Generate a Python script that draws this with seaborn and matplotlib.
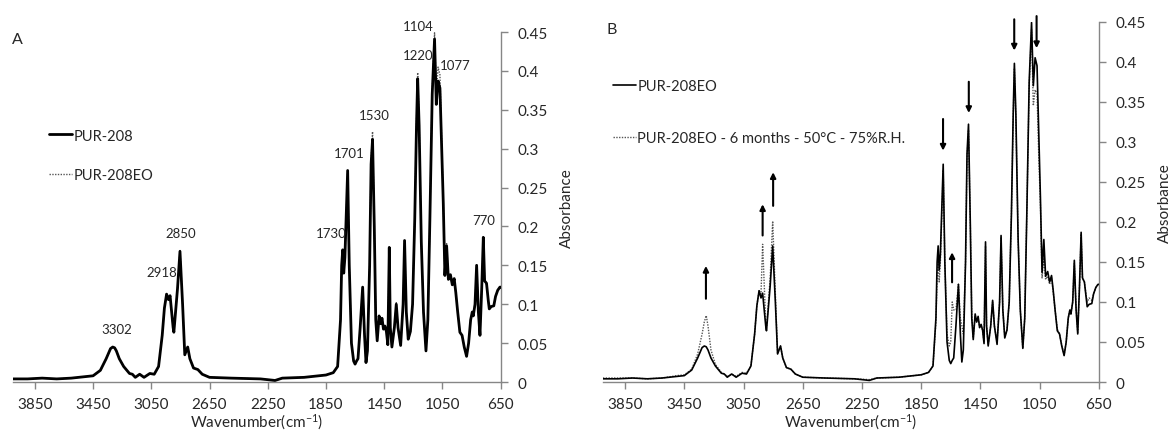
import numpy as np
import pandas as pd
import matplotlib
matplotlib.use("Agg")
import matplotlib.pyplot as plt
import seaborn as sns

# Wavenumbers (cm-1)
WAVENUMBER = [4000, 3900, 3800, 3700, 3600, 3500, 3450, 3400, 3360, 3330, 3315, 3302, 3290, 3270,
              3240, 3200, 3180, 3160, 3130, 3100, 3060, 3030, 3000, 2975, 2960, 2945, 2932, 2921,
              2900, 2895, 2870, 2853, 2835, 2820, 2800, 2785, 2760, 2730, 2700, 2650, 2500, 2300,
              2200, 2150, 2000, 1900, 1850, 1800, 1770, 1750, 1742, 1735, 1728, 1720, 1710, 1701,
              1690, 1675, 1660, 1650, 1640, 1630, 1615, 1598, 1585, 1575, 1565, 1550, 1540, 1530,
              1518, 1508, 1498, 1485, 1475, 1465, 1455, 1445, 1435, 1425, 1415, 1408, 1397, 1380,
              1367, 1355, 1337, 1320, 1310, 1298, 1285, 1270, 1255, 1240, 1228, 1220, 1210, 1195,
              1180, 1163, 1150, 1136, 1120, 1104, 1092, 1080, 1067, 1055, 1044, 1033, 1021, 1009,
              995, 982, 969, 958, 945, 930, 915, 900, 884, 870, 856, 845, 838, 826, 815, 803, 792,
              780, 769, 760, 747, 735, 728, 715, 697, 685, 670, 655, 650]

PUR208 = [0.004, 0.004, 0.005, 0.004, 0.005, 0.007, 0.008, 0.015, 0.030, 0.043, 0.045, 0.044, 0.040, 0.030,
          0.020, 0.011, 0.010, 0.006, 0.010, 0.006, 0.011, 0.010, 0.020, 0.060, 0.095, 0.113, 0.106, 0.111,
          0.070, 0.064, 0.120, 0.168, 0.100, 0.035, 0.045, 0.030, 0.018, 0.016, 0.010, 0.006, 0.005, 0.004,
          0.002, 0.005, 0.006, 0.008, 0.009, 0.012, 0.020, 0.080, 0.150, 0.170, 0.140, 0.160, 0.220, 0.272,
          0.150, 0.050, 0.027, 0.023, 0.027, 0.030, 0.070, 0.122, 0.060, 0.025, 0.040, 0.150, 0.280, 0.312,
          0.200, 0.080, 0.053, 0.085, 0.075, 0.082, 0.068, 0.072, 0.065, 0.048, 0.173, 0.070, 0.045, 0.070,
          0.100, 0.070, 0.047, 0.100, 0.182, 0.090, 0.055, 0.065, 0.100, 0.210, 0.330, 0.390, 0.330, 0.180,
          0.090, 0.040, 0.080, 0.210, 0.370, 0.441, 0.357, 0.387, 0.378, 0.300, 0.230, 0.137, 0.175, 0.132,
          0.138, 0.125, 0.133, 0.115, 0.090, 0.064, 0.060, 0.045, 0.033, 0.050, 0.080, 0.090, 0.085, 0.100, 0.150, 0.090, 0.060,
          0.120, 0.186, 0.130, 0.127, 0.105, 0.094, 0.097, 0.098, 0.110, 0.118, 0.122, 0.122]

PUR208EO = [0.004, 0.004, 0.005, 0.004, 0.005, 0.007, 0.008, 0.015, 0.030, 0.043, 0.045, 0.044, 0.040, 0.030,
            0.020, 0.011, 0.010, 0.006, 0.010, 0.006, 0.011, 0.010, 0.020, 0.060, 0.095, 0.114, 0.105, 0.111,
            0.070, 0.064, 0.120, 0.170, 0.100, 0.035, 0.045, 0.030, 0.018, 0.016, 0.010, 0.006, 0.005, 0.004,
            0.002, 0.005, 0.006, 0.008, 0.009, 0.012, 0.020, 0.080, 0.150, 0.170, 0.140, 0.160, 0.220, 0.272,
            0.150, 0.050, 0.027, 0.023, 0.027, 0.030, 0.070, 0.122, 0.060, 0.025, 0.040, 0.150, 0.285, 0.322,
            0.200, 0.080, 0.053, 0.085, 0.075, 0.082, 0.068, 0.072, 0.065, 0.048, 0.175, 0.070, 0.045, 0.070,
            0.102, 0.070, 0.047, 0.100, 0.183, 0.090, 0.055, 0.065, 0.100, 0.210, 0.335, 0.398, 0.335, 0.180,
            0.090, 0.042, 0.080, 0.210, 0.375, 0.449, 0.370, 0.405, 0.395, 0.310, 0.230, 0.137, 0.178, 0.132,
            0.138, 0.125, 0.133, 0.115, 0.090, 0.064, 0.060, 0.045, 0.033, 0.050, 0.080, 0.090, 0.085, 0.100, 0.152, 0.090, 0.060,
            0.120, 0.187, 0.130, 0.125, 0.105, 0.094, 0.097, 0.098, 0.110, 0.118, 0.122, 0.122]

PUR208EO_AGED = [0.005, 0.005, 0.005, 0.004, 0.005, 0.008, 0.009, 0.016, 0.035, 0.060, 0.075, 0.083, 0.070, 0.040,
                 0.022, 0.012, 0.010, 0.007, 0.010, 0.007, 0.012, 0.011, 0.020, 0.060, 0.095, 0.114, 0.110, 0.172,
                 0.075, 0.066, 0.130, 0.201, 0.110, 0.036, 0.045, 0.030, 0.018, 0.016, 0.010, 0.006, 0.005, 0.004,
                 0.003, 0.005, 0.006, 0.008, 0.009, 0.012, 0.020, 0.075, 0.130, 0.150, 0.125, 0.150, 0.210, 0.265,
                 0.150, 0.060, 0.045, 0.050, 0.100, 0.090, 0.090, 0.122, 0.080, 0.070, 0.060, 0.150, 0.280, 0.315,
                 0.200, 0.085, 0.055, 0.083, 0.075, 0.080, 0.068, 0.070, 0.065, 0.050, 0.170, 0.070, 0.047, 0.070,
                 0.100, 0.070, 0.050, 0.100, 0.180, 0.090, 0.057, 0.065, 0.100, 0.210, 0.330, 0.392, 0.330, 0.180,
                 0.090, 0.042, 0.080, 0.210, 0.370, 0.440, 0.345, 0.365, 0.360, 0.280, 0.220, 0.130, 0.155, 0.128,
                 0.132, 0.122, 0.130, 0.113, 0.090, 0.066, 0.060, 0.046, 0.034, 0.050, 0.080, 0.090, 0.085, 0.100, 0.148, 0.092, 0.062,
                 0.120, 0.185, 0.130, 0.125, 0.108, 0.100, 0.105, 0.102, 0.110, 0.118, 0.122, 0.122]

# Peak labels for panel A: (label, wavenumber, absorbance)
PEAK_LABELS = ["3302", "2918", "2850", "1730", "1701", "1530", "1220", "1104", "1077", "770"]
PEAK_LABEL_WN = [3288, 2977, 2846, 1811, 1691, 1517, 1216, 1213, 962, 767]
PEAK_LABEL_ABS = [0.060, 0.134, 0.184, 0.184, 0.287, 0.336, 0.413, 0.4496, 0.400, 0.200]

# Arrows in panel B: wavenumber, tail and head absorbance
ARROW_WN = [3304, 2921, 2850, 1702, 1641, 1528, 1221, 1070]
ARROW_TAIL = [0.104, 0.183, 0.220, 0.3285, 0.1245, 0.375, 0.453, 0.457]
ARROW_HEAD = [0.145, 0.222, 0.262, 0.289, 0.162, 0.336, 0.414, 0.417]

XTICKS = [3850, 3450, 3050, 2650, 2250, 1850, 1450, 1050, 650]
YTICKS = [0, 0.05, 0.1, 0.15, 0.2, 0.25, 0.3, 0.35, 0.4, 0.45]

sns.set_style("white")
plt.rcParams['font.family'] = ['Lato', 'DejaVu Sans']
plt.rcParams['mathtext.default'] = 'regular'
TEXT = '#262626'
AXIS = '#868686'

df = pd.DataFrame({"wn": WAVENUMBER, "pur208": PUR208, "eo": PUR208EO, "aged": PUR208EO_AGED})

fig = plt.figure(figsize=(11.73, 4.35), dpi=100)
axA = fig.add_axes([0.0111, 0.1195, 0.4157, 0.8045])
axB = fig.add_axes([0.514, 0.1195, 0.4227, 0.8283])


def styleAxis(ax):
    ax.set_xlim(4000, 650)
    ax.set_ylim(0, 0.45)
    ax.set_xticks(XTICKS)
    ax.set_xticklabels([str(t) for t in XTICKS])
    ax.set_yticks(YTICKS)
    ax.set_yticklabels(["0" if t == 0 else f"{t:g}" for t in YTICKS])
    ax.yaxis.tick_right()
    ax.yaxis.set_label_position("right")
    for side in ["top", "left"]:
        ax.spines[side].set_visible(False)
    for side in ["right", "bottom"]:
        ax.spines[side].set_color(AXIS)
        ax.spines[side].set_linewidth(1.0)
    ax.tick_params(axis='both', which='both', direction='out', length=5, width=1.0,
                   color=AXIS, labelsize=11, labelcolor=TEXT)
    ax.tick_params(axis='y', right=True, left=False, pad=7)
    ax.tick_params(axis='x', bottom=True, pad=6)
    ax.set_xlabel("Wavenumber(cm$^{-1}$)", fontsize=11, color=TEXT, labelpad=0)
    ax.set_ylabel("Absorbance", fontsize=11, color=TEXT, labelpad=9)


# Panel A
sns.lineplot(data=df, x="wn", y="eo", ax=axA, sort=False, estimator=None, color='#555555',
             linestyle=(0, (1, 1)), linewidth=1.0, label="PUR-208EO", zorder=2)
sns.lineplot(data=df, x="wn", y="pur208", ax=axA, sort=False, estimator=None, color='black',
             linewidth=2.0, label="PUR-208", zorder=3)
styleAxis(axA)
for lab, wn, ab in zip(PEAK_LABELS, PEAK_LABEL_WN, PEAK_LABEL_ABS):
    axA.text(wn, ab, lab, ha='center', va='bottom', fontsize=9.5, color=TEXT)
hA, lA = axA.get_legend_handles_labels()
axA.legend([hA[1], hA[0]], [lA[1], lA[0]], loc='upper left', bbox_to_anchor=(0.058, 0.745),
           frameon=False, fontsize=10.5, handlelength=1.6, handletextpad=0.1,
           labelspacing=1.75, borderpad=0, labelcolor=TEXT)
axA.text(-0.002, 1.0, "A", transform=axA.transAxes, fontsize=11.5, color=TEXT, va='top')

# Panel B
sns.lineplot(data=df, x="wn", y="aged", ax=axB, sort=False, estimator=None, color='#555555',
             linestyle=(0, (1, 1)), linewidth=1.0,
             label="PUR-208EO - 6 months - 50°C - 75%R.H.", zorder=2)
sns.lineplot(data=df, x="wn", y="eo", ax=axB, sort=False, estimator=None, color='black',
             linewidth=1.2, label="PUR-208EO", zorder=3)
styleAxis(axB)
for wn, t, h in zip(ARROW_WN, ARROW_TAIL, ARROW_HEAD):
    axB.annotate('', xy=(wn, h), xytext=(wn, t),
                 arrowprops=dict(arrowstyle='-|>', color='black', lw=1.5,
                                 mutation_scale=8, shrinkA=0, shrinkB=0),
                 annotation_clip=False)
hB, lB = axB.get_legend_handles_labels()
axB.legend([hB[1], hB[0]], [lB[1], lB[0]], loc='upper left', bbox_to_anchor=(0.005, 0.86),
           frameon=False, fontsize=10.5, handlelength=1.6, handletextpad=0.1,
           labelspacing=2.6, borderpad=0, labelcolor=TEXT)
axB.text(0.008, 1.0, "B", transform=axB.transAxes, fontsize=11.5, color=TEXT, va='top')

fig.savefig("out.png", dpi=100)
